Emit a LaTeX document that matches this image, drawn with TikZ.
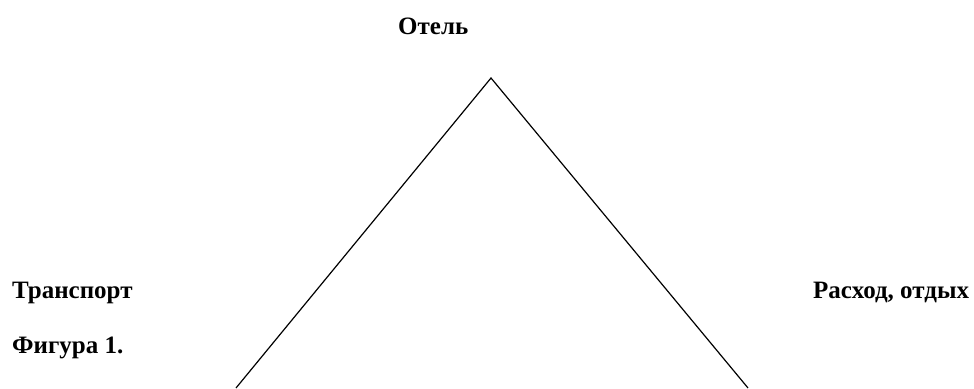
\documentclass[tikz,border=0pt]{standalone}
\usepackage{fontspec}
\setmainfont{Liberation Serif}
\begin{document}
\begin{tikzpicture}[x=1pt,y=-1pt,
  lbl/.style={inner sep=0pt,anchor=base west,font=\fontsize{25}{30}\selectfont\bfseries},
  edge/.style={draw=black,line width=1.2pt}]
\useasboundingbox[fill=white] (0,0) rectangle (974,388);
\node[lbl] (hotel) at (398,34) {Отель};
\node[lbl] (transport) at (12,298) {Транспорт};
\node[lbl] (rest) at (813,298) {Расход, отдых};
\node[lbl] (fig) at (12,353) {Фигура 1.};
\coordinate (apex) at (491,78);
\coordinate (bl) at (236,388);
\coordinate (br) at (748,388);
\begin{scope}
\clip (0,0) rectangle (974,388);
\draw[edge] (bl) -- (apex) -- (br);
\end{scope}
\end{tikzpicture}
\end{document}
